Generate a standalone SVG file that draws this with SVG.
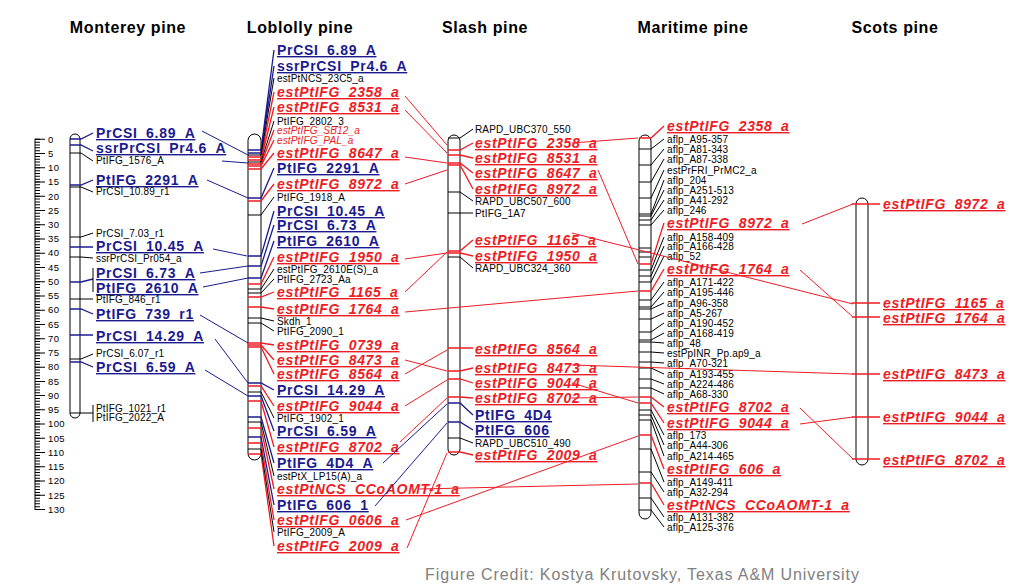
<svg xmlns="http://www.w3.org/2000/svg" width="1024" height="585" viewBox="0 0 1024 585">
<style>
text{font-family:"Liberation Sans",Arial,sans-serif}
.h{font-size:16px;font-weight:bold;letter-spacing:.6px;text-anchor:middle;fill:#000}
.B{font-size:14px;font-weight:bold;letter-spacing:.7px;text-decoration:underline}
.bl{fill:#1b1b8f}
.rd{fill:#ee1c25;font-style:italic}
.s{font-size:10px;letter-spacing:.15px;fill:#000}
.sr{font-size:10px;letter-spacing:.15px;fill:#ee1c25;font-style:italic}
.sc{font-size:9.5px;letter-spacing:.4px;fill:#000}
.chr{fill:#fff;stroke:#000;stroke-width:1}
.k{stroke:#000;stroke-width:1;fill:none}
.kb{stroke:#1b1b8f;stroke-width:1.3;fill:none}
.kr{stroke:#ee1c25;stroke-width:1.3;fill:none}
.cb{stroke:#1b1b8f;stroke-width:1;fill:none}
.cr{stroke:#ee1c25;stroke-width:1;fill:none}
.cred{font-size:16px;letter-spacing:.9px;fill:#808080}
</style>
<rect width="1024" height="585" fill="#fff"/>

<g id="headers">
<text class="h" x="128" y="33">Monterey pine</text>
<text class="h" x="300" y="33">Loblolly pine</text>
<text class="h" x="485" y="33">Slash pine</text>
<text class="h" x="693" y="33">Maritime pine</text>
<text class="h" x="895" y="33">Scots pine</text>
</g>

<g id="scale">
<line x1="35" y1="138.8" x2="35" y2="510" stroke="#000" stroke-width="1"/>
<line x1="37.5" y1="138.8" x2="37.5" y2="510" stroke="#000" stroke-width="5" stroke-dasharray="1 1.848"/>
<line x1="40" y1="138.8" x2="40" y2="510" stroke="#000" stroke-width="10" stroke-dasharray="1 13.24"/>
<g class="sc">
<text x="48" y="142.5">0</text><text x="48" y="156.7">5</text><text x="48" y="171">10</text><text x="48" y="185.2">15</text><text x="48" y="199.5">20</text><text x="48" y="213.7">25</text><text x="48" y="227.9">30</text><text x="48" y="242.2">35</text><text x="48" y="256.4">40</text><text x="48" y="270.7">45</text><text x="48" y="284.9">50</text><text x="48" y="299.1">55</text><text x="48" y="313.4">60</text><text x="48" y="327.6">65</text><text x="48" y="341.9">70</text><text x="48" y="356.1">75</text><text x="48" y="370.4">80</text><text x="48" y="384.6">85</text><text x="48" y="398.8">90</text><text x="48" y="413.1">95</text><text x="48" y="427.3">100</text><text x="48" y="441.6">105</text><text x="48" y="455.8">110</text><text x="48" y="470">115</text><text x="48" y="484.3">120</text><text x="48" y="498.5">125</text><text x="48" y="512.8">130</text>
</g>
</g>

<g id="monterey">
<rect class="chr" x="70" y="134" width="10" height="284" rx="5"/>
<path class="kb" d="M70 139H81L93 133M70 145H81L93 151M70 185H81L93 180M70 247H93M70 282H81L93 279M70 309H81L93 314M70 335H93M70 362H81L93 367"/>
<path class="k" d="M70 153H81L93 161M70 187H81L93 192M70 237H81L93 233M70 257H81L93 258M70 299H93M70 359H81L93 354M70 413H93M93 268V292M93 405V422"/>
<text class="B bl" x="96" y="138">PrCSI_6.89_A</text>
<text class="B bl" x="96" y="153">ssrPrCSI_Pr4.6_A</text>
<text class="s" x="96" y="164">PtIFG_1576_A</text>
<text class="B bl" x="96" y="185">PtIFG_2291_A</text>
<text class="s" x="96" y="195">PrCSI_10.89_r1</text>
<text class="s" x="96" y="237">PrCSI_7.03_r1</text>
<text class="B bl" x="96" y="251">PrCSI_10.45_A</text>
<text class="s" x="96" y="262">ssrPrCSI_Pr054_a</text>
<text class="B bl" x="96" y="278">PrCSI_6.73_A</text>
<text class="B bl" x="96" y="293">PtIFG_2610_A</text>
<text class="s" x="96" y="303">PtIFG_846_r1</text>
<text class="B bl" x="96" y="319">PtIFG_739_r1</text>
<text class="B bl" x="96" y="341">PrCSI_14.29_A</text>
<text class="s" x="96" y="357">PrCSI_6.07_r1</text>
<text class="B bl" x="96" y="372">PrCSI_6.59_A</text>
<text class="s" x="96" y="412">PtIFG_1021_r1</text>
<text class="s" x="96" y="421">PtIFG_2022_A</text>
</g>

<g id="loblolly">
<rect class="chr" x="248" y="134" width="13" height="326" rx="6.5"/>
<path class="kb" d="M248 150H261L274 50M248 153H261L274 66M248 198H261L274 168M248 256H261L274 211M248 266H261L274 225M248 278H261L274 241M248 383H261L274 390M248 396H261L274 431M248 417H261L274 463M248 437H261L274 505"/>
<path class="kr" d="M248 157H261L274 92M248 160H261L274 107M248 164H261L274 130M248 166H261L274 140M248 169H261L274 153M248 201H261L274 184M248 284H261L274 257M248 297H261L274 292M248 307H261L274 309M248 343H261L274 345M248 345H261L274 360M248 347H261L274 374M248 386H261L274 406M248 401H261L274 447M248 428H261L274 489M248 443H261L274 520M248 454H261L274 546"/>
<path class="k" d="M248 155H261L274 78M248 162H261L274 121M248 215H261L274 197M248 289H261L274 269M248 293H261L274 279M248 318H261L274 321M248 323H261L274 331M248 392H261L274 418M248 422H261L274 476M248 449H261L274 532"/>
<text class="B bl" x="277" y="55">PrCSI_6.89_A</text>
<text class="B bl" x="277" y="71">ssrPrCSI_Pr4.6_A</text>
<text class="s" x="277" y="81.5">estPtNCS_23C5_a</text>
<text class="B rd" x="277" y="97">estPtIFG_2358_a</text>
<text class="B rd" x="277" y="112">estPtIFG_8531_a</text>
<text class="s" x="277" y="124.5">PtIFG_2802_3</text>
<text class="sr" x="277" y="133.5">estPtIFG_SB12_a</text>
<text class="sr" x="277" y="143.5">estPtIFG_PAL_a</text>
<text class="B rd" x="277" y="158">estPtIFG_8647_a</text>
<text class="B bl" x="277" y="173">PtIFG_2291_A</text>
<text class="B rd" x="277" y="189">estPtIFG_8972_a</text>
<text class="s" x="277" y="200.5">PtIFG_1918_A</text>
<text class="B bl" x="277" y="216">PrCSI_10.45_A</text>
<text class="B bl" x="277" y="230">PrCSI_6.73_A</text>
<text class="B bl" x="277" y="246">PtIFG_2610_A</text>
<text class="B rd" x="277" y="262">estPtIFG_1950_a</text>
<text class="s" x="277" y="272.5">estPtIFG_2610E(S)_a</text>
<text class="s" x="277" y="282.5">PtIFG_2723_Aa</text>
<text class="B rd" x="277" y="297">estPtIFG_1165_a</text>
<text class="B rd" x="277" y="314">estPtIFG_1764_a</text>
<text class="s" x="277" y="324.5">Skdh_1</text>
<text class="s" x="277" y="334.5">PtIFG_2090_1</text>
<text class="B rd" x="277" y="350">estPtIFG_0739_a</text>
<text class="B rd" x="277" y="365">estPtIFG_8473_a</text>
<text class="B rd" x="277" y="379">estPtIFG_8564_a</text>
<text class="B bl" x="277" y="395">PrCSI_14.29_A</text>
<text class="B rd" x="277" y="411">estPtIFG_9044_a</text>
<text class="s" x="277" y="421.5">PtIFG_1902_1</text>
<text class="B bl" x="277" y="436">PrCSI_6.59_A</text>
<text class="B rd" x="277" y="452">estPtIFG_8702_a</text>
<text class="B bl" x="277" y="468">PtIFG_4D4_A</text>
<text class="s" x="277" y="479.5">estPtX_LP15(A)_a</text>
<text class="B rd" x="277" y="494">estPtNCS_CCoAOMT-1_a</text>
<text class="B bl" x="277" y="510">PtIFG_606_1</text>
<text class="B rd" x="277" y="525">estPtIFG_0606_a</text>
<text class="s" x="277" y="535.5">PtIFG_2009_A</text>
<text class="B rd" x="277" y="551">estPtIFG_2009_a</text>
</g>

<g id="slash">
<rect class="chr" x="448" y="135" width="12" height="320" rx="6"/>
<path class="k" d="M448 138H460L473 129M448 192H460L473 201M448 213H473M448 257H460L473 268M448 438H460L473 443"/>
<path class="kr" d="M448 150H460L473 143M448 155H460L473 158M448 163H460L473 173M448 165H460L473 189M448 251H460L473 240M448 253H460L473 256M448 348H473M448 371H460L473 368M448 379H460L473 383M448 397H460L473 398M448 452H460L473 455"/>
<path class="kb" d="M448 403H460L473 415M448 422H460L473 430"/>
<text class="s" x="475" y="132.5">RAPD_UBC370_550</text>
<text class="B rd" x="475" y="148">estPtIFG_2358_a</text>
<text class="B rd" x="475" y="163">estPtIFG_8531_a</text>
<text class="B rd" x="475" y="178">estPtIFG_8647_a</text>
<text class="B rd" x="475" y="194">estPtIFG_8972_a</text>
<text class="s" x="475" y="204.5">RAPD_UBC507_600</text>
<text class="s" x="475" y="216.5">PtIFG_1A7</text>
<text class="B rd" x="475" y="245">estPtIFG_1165_a</text>
<text class="B rd" x="475" y="261">estPtIFG_1950_a</text>
<text class="s" x="475" y="271.5">RAPD_UBC324_360</text>
<text class="B rd" x="475" y="354">estPtIFG_8564_a</text>
<text class="B rd" x="475" y="373">estPtIFG_8473_a</text>
<text class="B rd" x="475" y="388">estPtIFG_9044_a</text>
<text class="B rd" x="475" y="403">estPtIFG_8702_a</text>
<text class="B bl" x="475" y="420">PtIFG_4D4</text>
<text class="B bl" x="475" y="435">PtIFG_606</text>
<text class="s" x="475" y="446.5">RAPD_UBC510_490</text>
<text class="B rd" x="475" y="460">estPtIFG_2009_a</text>
</g>

<g id="maritime">
<rect class="chr" x="639" y="135" width="12" height="384" rx="6"/>
<path class="k" d="M639 149H651L664 139M639 165H651L664 149M639 182H651L664 159M639 198H651L664 170M639 214H651L664 180M639 216H651L664 190M639 220H651L664 200M639 225H651L664 210M639 270H651L664 237M639 276H651L664 246M639 282H651L664 256M639 300H651L664 282M639 307H651L664 292M639 309H651L664 303M639 319H651L664 313M639 332H651L664 323M639 340H651L664 333M639 342H651L664 343M639 352H651L664 353M639 362H651L664 363M639 368H651L664 374M639 379H651L664 384M639 388H651L664 394M639 410H651L664 435M639 415H651L664 445M639 420H651L664 456M639 449H651L664 482M639 472H651L664 492M639 498H651L664 517M639 510H651L664 527M639 248H651M639 252H651M639 257H651"/>
<path class="kr" d="M639 138H651L664 126M639 264H651L664 223M639 291H651L664 269M639 397H651L664 407M639 403H651L664 423M639 435H651L664 469M639 483H651L664 505"/>
<text class="B rd" x="667" y="131">estPtIFG_2358_a</text>
<text class="s" x="667" y="142.5">aflp_A95-357</text>
<text class="s" x="667" y="152.5">aflp_A81-343</text>
<text class="s" x="667" y="162.5">aflp_A87-338</text>
<text class="s" x="667" y="173.5">estPrFRI_PrMC2_a</text>
<text class="s" x="667" y="183.5">aflp_204</text>
<text class="s" x="667" y="193.5">aflp_A251-513</text>
<text class="s" x="667" y="203.5">aflp_A41-292</text>
<text class="s" x="667" y="213.5">aflp_246</text>
<text class="B rd" x="667" y="228">estPtIFG_8972_a</text>
<text class="s" x="667" y="240.5">aflp_A158-409</text>
<text class="s" x="667" y="249.5">aflp_A166-428</text>
<text class="s" x="667" y="259.5">aflp_52</text>
<text class="B rd" x="667" y="274">estPtIFG_1764_a</text>
<text class="s" x="667" y="285.5">aflp_A171-422</text>
<text class="s" x="667" y="295.5">aflp_A195-446</text>
<text class="s" x="667" y="306.5">aflp_A96-358</text>
<text class="s" x="667" y="316.5">aflp_A5-267</text>
<text class="s" x="667" y="326.5">aflp_A190-452</text>
<text class="s" x="667" y="336.5">aflp_A168-419</text>
<text class="s" x="667" y="346.5">aflp_48</text>
<text class="s" x="667" y="356.5">estPpINR_Pp.ap9_a</text>
<text class="s" x="667" y="366.5">aflp_A70-321</text>
<text class="s" x="667" y="377.5">aflp_A193-455</text>
<text class="s" x="667" y="387.5">aflp_A224-486</text>
<text class="s" x="667" y="397.5">aflp_A68-330</text>
<text class="B rd" x="667" y="412">estPtIFG_8702_a</text>
<text class="B rd" x="667" y="428">estPtIFG_9044_a</text>
<text class="s" x="667" y="438.5">aflp_173</text>
<text class="s" x="667" y="448.5">aflp_A44-306</text>
<text class="s" x="667" y="459.5">aflp_A214-465</text>
<text class="B rd" x="667" y="474">estPtIFG_606_a</text>
<text class="s" x="667" y="485.5">aflp_A149-411</text>
<text class="s" x="667" y="495.5">aflp_A32-294</text>
<text class="B rd" x="667" y="510">estPtNCS_CCoAOMT-1_a</text>
<text class="s" x="667" y="520.5">aflp_A131-382</text>
<text class="s" x="667" y="530.5">aflp_A125-376</text>
</g>

<g id="scots">
<rect class="chr" x="856" y="198" width="12" height="267" rx="6"/>
<path class="kr" d="M852 204H880M852 303H880M852 317H880M852 374H880M852 417H880M852 459H880"/>
<text class="B rd" x="883" y="209">estPtIFG_8972_a</text>
<text class="B rd" x="883" y="308">estPtIFG_1165_a</text>
<text class="B rd" x="883" y="323">estPtIFG_1764_a</text>
<text class="B rd" x="883" y="379">estPtIFG_8473_a</text>
<text class="B rd" x="883" y="422">estPtIFG_9044_a</text>
<text class="B rd" x="883" y="465">estPtIFG_8702_a</text>
</g>

<g id="connectors">
<path class="cb" d="M202 131L248 155M222 161L248 163M207 180L248 198M213 249L247 256M200 273L248 266M203 287L248 278M200 315L248 343M215 339L248 383M205 370L248 396"/>
<path class="cb" d="M383 463L447 404M375 506L447 423"/>
<path class="cr" d="M405 96L447 145M405 110L447 153M405 157L447 163M405 184L447 170M405 259L447 253M405 292L447 252M405 312L638 291M405 360L447 371M405 374L447 350M405 406L447 380M400 442L447 398M420 489L638 484M406 520L638 436M407 548L447 453"/>
<path class="cr" d="M572 143L638 138M598 170L638 264M572 383L638 403M572 398L638 397M572 233L853 304M572 365L853 374"/>
<path class="cr" d="M802 224L853 204M800 270L853 317M800 408L853 459M800 424L853 417"/>
</g>

<text class="cred" x="425" y="580">Figure Credit: Kostya Krutovsky, Texas A&amp;M University</text>
</svg>
